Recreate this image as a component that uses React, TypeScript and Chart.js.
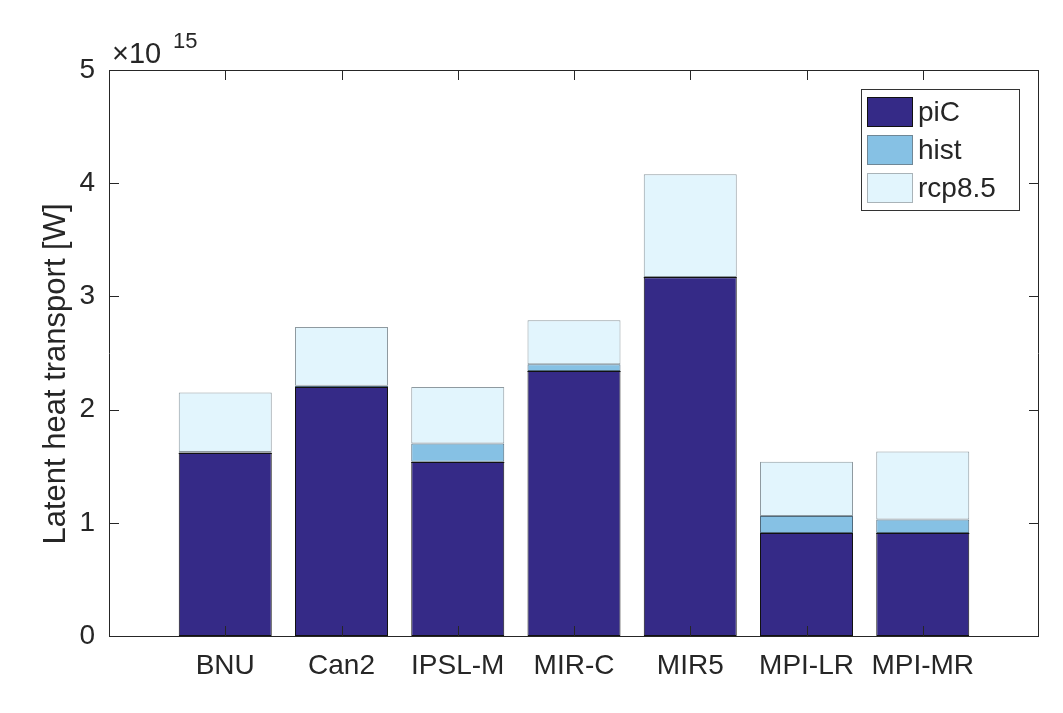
import React, { useEffect, useRef } from "react";
import { Chart, registerables } from "chart.js";

Chart.register(...registerables);

// Models on the x axis
const models = ["BNU", "Can2", "IPSL-M", "MIR-C", "MIR5", "MPI-LR", "MPI-MR"];

// Latent heat transport per scenario, in units of 10^15 W
const piC = [1.62, 2.2, 1.54, 2.34, 3.17, 0.91, 0.91];
const hist = [1.625, 2.21, 1.7, 2.4, 3.172, 1.06, 1.03];
const rcp85 = [2.15, 2.73, 2.2, 2.79, 4.08, 1.54, 1.63];

const yTicks = [0, 1, 2, 3, 4, 5];
const seriesNames = ["piC", "hist", "rcp8.5"];

const FONT = "'Liberation Sans', Arial, Helvetica, sans-serif";
const AXIS = "#262626";
const fills = ["#352a87", "#86c1e4", "#e2f5fd"];
const edges = ["#111111", "#4f6a7c", "#8f9aa0"];

// Stacked increments: each segment adds on top of the previous scenario
const piCSeg = piC.map((v, i) => ({ x: i + 1, y: v }));
const histSeg = hist.map((v, i) => ({ x: i + 1, y: v - piC[i] }));
const rcpSeg = rcp85.map((v, i) => ({ x: i + 1, y: v - hist[i] }));

const framePlugin = {
  id: "matlabFrame",
  afterDatasetsDraw(chart: any) {
    const { ctx, chartArea } = chart;
    const { left, right, top, bottom } = chartArea;
    const xs = chart.scales.x;
    const ys = chart.scales.y;
    const tick = 10;
    ctx.save();

    // redraw the dark top edge of each piC bar above the hist segment
    ctx.strokeStyle = "#111111";
    ctx.lineWidth = 1;
    ctx.beginPath();
    piC.forEach((v, i) => {
      const cx = xs.getPixelForValue(i + 1);
      const half = (xs.getPixelForValue(1) - xs.getPixelForValue(0)) * 0.4;
      const py = Math.round(ys.getPixelForValue(v)) + 0.5;
      ctx.moveTo(cx - half, py);
      ctx.lineTo(cx + half, py);
    });
    ctx.stroke();

    ctx.strokeStyle = AXIS;
    ctx.beginPath();
    ctx.rect(left + 0.5, top + 0.5, right - left - 1, bottom - top);
    ctx.stroke();
    ctx.beginPath();
    models.forEach((_, i) => {
      const px = Math.round(xs.getPixelForValue(i + 1)) + 0.5;
      ctx.moveTo(px, bottom);
      ctx.lineTo(px, bottom - tick);
      ctx.moveTo(px, top);
      ctx.lineTo(px, top + tick);
    });
    yTicks.forEach((v) => {
      const py = Math.round(ys.getPixelForValue(v)) + 0.5;
      ctx.moveTo(left, py);
      ctx.lineTo(left + tick, py);
      ctx.moveTo(right, py);
      ctx.lineTo(right - tick, py);
    });
    ctx.stroke();

    // exponent label
    ctx.fillStyle = AXIS;
    ctx.textBaseline = "alphabetic";
    ctx.textAlign = "left";
    ctx.font = `29px ${FONT}`;
    ctx.fillText("\u00d710", left + 3, top - 7);
    ctx.font = `22px ${FONT}`;
    ctx.fillText("15", left + 64, top - 22);

    // y axis title
    ctx.save();
    ctx.translate(56, 374);
    ctx.rotate(-Math.PI / 2);
    ctx.textAlign = "center";
    ctx.textBaseline = "middle";
    ctx.font = `31px ${FONT}`;
    ctx.fillText("Latent heat transport [W]", 0, 0);
    ctx.restore();

    // legend box
    const lx = 861, ly = 89, lw = 158, lh = 121;
    ctx.fillStyle = "#ffffff";
    ctx.fillRect(lx, ly, lw, lh);
    ctx.strokeStyle = "#333333";
    ctx.strokeRect(lx + 0.5, ly + 0.5, lw, lh);
    seriesNames.forEach((name, i) => {
      const sy = 97 + i * 38;
      ctx.fillStyle = fills[i];
      ctx.fillRect(867, sy, 46, 30);
      ctx.strokeStyle = i === 0 ? "#111111" : i === 1 ? "#6f8796" : "#a9b3b8";
      ctx.strokeRect(867.5, sy + 0.5, 45, 29);
      ctx.fillStyle = AXIS;
      ctx.font = `28px ${FONT}`;
      ctx.textAlign = "left";
      ctx.textBaseline = "middle";
      ctx.fillText(name, 918, sy + 16);
    });
    ctx.restore();
  },
};

export default function App() {
  const ref = useRef<HTMLCanvasElement | null>(null);

  useEffect(() => {
    document.body.style.margin = "0";
    const canvas = ref.current;
    if (!canvas) return;
    const chart = new Chart(canvas, {
      type: "bar",
      data: {
        datasets: [piCSeg, histSeg, rcpSeg].map((d, i) => ({
          label: seriesNames[i],
          data: d,
          backgroundColor: fills[i],
          borderColor: edges[i],
          borderWidth: 1,
          borderSkipped: false,
          barPercentage: 0.8,
          categoryPercentage: 1,
        })),
      },
      options: {
        responsive: false,
        animation: false,
        devicePixelRatio: 1,
        layout: { padding: { left: 0, top: 70, right: 24, bottom: 0 } },
        plugins: {
          legend: { display: false },
          tooltip: { enabled: false },
        },
        scales: {
          x: {
            type: "linear",
            stacked: true,
            min: 0,
            max: 8,
            offset: false,
            grid: { display: false, drawTicks: false },
            border: { display: false },
            afterFit: (s: any) => {
              s.height = 77;
            },
            afterBuildTicks: (s: any) => {
              s.ticks = models.map((_, i) => ({ value: i + 1 }));
            },
            ticks: {
              autoSkip: false,
              maxRotation: 0,
              minRotation: 0,
              padding: 13,
              color: AXIS,
              font: { family: FONT, size: 28 },
              callback: (v: any) => models[Number(v) - 1] ?? "",
            },
          },
          y: {
            stacked: true,
            min: 0,
            max: 5,
            grid: { display: false, drawTicks: false },
            border: { display: false },
            afterFit: (s: any) => {
              s.width = 109;
            },
            afterBuildTicks: (s: any) => {
              s.ticks = yTicks.map((v) => ({ value: v }));
            },
            ticks: {
              padding: 14,
              color: AXIS,
              font: { family: FONT, size: 28 },
            },
          },
        },
      },
      plugins: [framePlugin],
    } as any);
    return () => chart.destroy();
  }, []);

  return (
    <div style={{ position: "absolute", left: 0, top: 0, width: 1063, height: 713, background: "#fff" }}>
      <canvas ref={ref} width={1063} height={713} style={{ width: 1063, height: 713 }} />
    </div>
  );
}
